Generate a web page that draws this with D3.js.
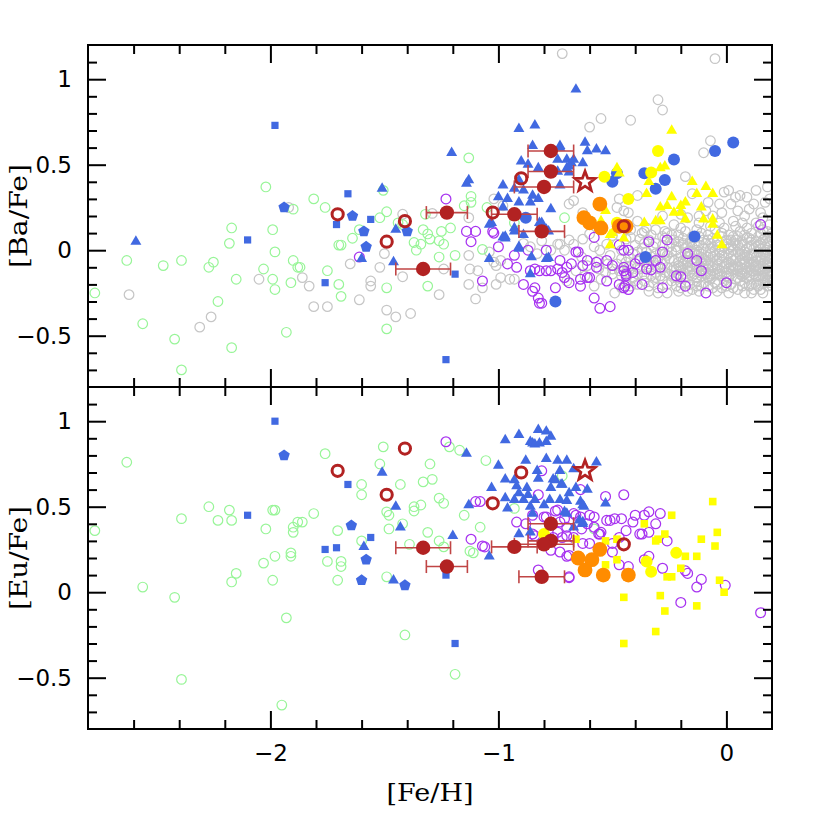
<!DOCTYPE html>
<html>
<head>
<meta charset="utf-8">
<script src="https://cdn.jsdelivr.net/npm/d3@7"></script>
<style>
  body { margin: 0; background: #fff; }
</style>
</head>
<body>
<div id="chart"></div>
<script>
// ---- data: [ [Fe/H], [X/Fe] ] pairs ----
const grayBa = [
  [-2.62,-0.26],[-2.26,-0.39],[-2.31,-0.45],[-2.05,-0.17],[-1.92,0.25],[-1.86,-0.16],[-1.83,-0.21],[-1.81,-0.33],
  [-1.75,-0.33],[-1.65,-0.08],[-1.61,-0.29],[-1.56,-0.18],[-1.56,-0.21],[-1.52,-0.10],[-1.50,-0.02],[-1.49,-0.35],
  [-1.45,-0.39],[-1.42,0.21],[-1.42,-0.155],[-1.385,-0.37],[-1.29,0.215],[-1.26,-0.26],[-1.24,-0.11],[-1.13,0.19],
  [-1.13,-0.03],[-1.125,-0.11],[-1.09,-0.12],[-1.13,-0.20],[-1.07,-0.22],[-1.10,-0.285],[-1.04,-0.01],[-1.01,-0.09],
  [-0.99,-0.06],[-1.02,0.30],[-0.98,0.26],[-0.95,-0.17],[-0.89,0.04],[-0.86,0.02],[-0.83,-0.02],[-1.01,-0.20],
  [-1.02,-0.07],[-0.93,-0.17],[-0.99,-0.16],
  [-0.72,1.15],[-0.05,1.12],[-0.30,0.88],[-0.28,0.82],[-0.55,0.77],[-0.42,0.76],[-0.60,0.72],[-0.07,0.64],[-0.10,0.57],
  [-0.69,0.27],[-0.67,0.29],[-0.63,0.22],[-0.48,0.25],[-0.45,0.23],[-0.43,0.22],[-0.39,0.32],[-0.47,0.30],
  [-0.18,0.43],[-0.15,0.33],[-0.01,0.34],[0.01,0.35],[0.06,0.32],[0.09,0.31],[0.13,0.35],[0.18,0.37],[0.19,0.30],
  [-0.03,0.27],[0.02,0.27],[0.05,0.23],[0.10,0.24],[0.15,0.22],[-0.09,0.23],[-0.06,0.20],[-0.12,0.16],[-0.03,0.16],
  [0.03,0.17],[0.07,0.16],[0.13,0.16],[0.19,0.15],[-0.23,0.15],[-0.17,0.19],[-0.39,0.17],[-0.36,0.11],[-0.42,0.12],
  [-0.63,0.065],[-0.67,0.035],[-0.73,0.035],[-0.77,0.00],[-0.58,0.02],[-0.525,0.035],[-0.50,0.085],[-0.44,0.065],
  [-0.69,0.06],[-0.81,0.055],[-0.74,0.035],[-0.71,0.00],[-0.60,0.095],[-0.635,-0.04],[-0.555,0.00],[-0.48,0.035],
  [-0.42,0.075],[-0.38,0.065],
  [-0.37,0.10],[-0.31,0.12],[-0.24,0.09],[-0.18,0.11],[-0.11,0.10],[-0.05,0.12],[0.01,0.09],[0.06,0.11],[0.11,0.10],
  [0.16,0.12],[0.19,0.08],[-0.34,0.06],[-0.27,0.07],[-0.21,0.05],[-0.14,0.07],[-0.08,0.06],[-0.02,0.08],[0.04,0.06],
  [0.09,0.07],[0.13,0.05],[0.17,0.07],[-0.40,0.03],[-0.31,0.04],[-0.25,0.02],[-0.19,0.04],[-0.12,0.03],[-0.06,0.02],
  [0.00,0.04],[0.05,0.03],[0.10,0.02],[0.15,0.04],[0.19,0.02],[-0.46,0.00],[-0.37,0.01],[-0.29,-0.01],[-0.22,0.00],
  [-0.16,-0.01],[-0.10,0.01],[-0.03,-0.01],[0.03,0.00],[0.08,-0.01],[0.12,0.01],[0.17,-0.01],[-0.51,-0.03],[-0.41,-0.02],
  [-0.33,-0.04],[-0.27,-0.02],[-0.20,-0.04],[-0.13,-0.03],[-0.07,-0.02],[-0.01,-0.04],[0.06,-0.03],[0.11,-0.02],
  [0.15,-0.04],[0.19,-0.03],[-0.56,-0.06],[-0.46,-0.05],[-0.36,-0.07],[-0.30,-0.05],[-0.23,-0.06],[-0.17,-0.07],
  [-0.10,-0.05],[-0.04,-0.06],[0.02,-0.05],[0.08,-0.07],[0.13,-0.06],[0.18,-0.05],[-0.61,-0.09],[-0.52,-0.08],
  [-0.42,-0.09],[-0.34,-0.08],[-0.26,-0.10],[-0.19,-0.08],[-0.12,-0.09],[-0.06,-0.10],[0.00,-0.08],[0.05,-0.09],
  [0.10,-0.10],[0.16,-0.08],[0.19,-0.10],[-0.66,-0.12],[-0.56,-0.11],[-0.47,-0.12],[-0.38,-0.11],[-0.31,-0.13],
  [-0.24,-0.12],[-0.15,-0.11],[-0.09,-0.13],[-0.03,-0.12],[0.03,-0.11],[0.09,-0.13],[0.14,-0.12],[0.18,-0.13],
  [-0.62,-0.15],[-0.50,-0.14],[-0.41,-0.16],[-0.33,-0.15],[-0.25,-0.14],[-0.18,-0.16],[-0.11,-0.15],[-0.05,-0.14],
  [0.01,-0.16],[0.07,-0.15],[0.12,-0.14],[0.17,-0.16],[-0.70,-0.18],[-0.55,-0.17],[-0.44,-0.19],[-0.36,-0.18],
  [-0.28,-0.17],[-0.20,-0.19],[-0.13,-0.18],[-0.07,-0.17],[0.00,-0.19],[0.06,-0.18],[0.11,-0.20],[0.16,-0.19],
  [-0.58,-0.21],[-0.46,-0.22],[-0.39,-0.20],[-0.30,-0.22],[-0.22,-0.21],[-0.15,-0.23],[-0.08,-0.21],[-0.02,-0.22],
  [0.05,-0.23],[0.10,-0.21],[0.15,-0.23],[-0.49,-0.25],[-0.34,-0.24],[-0.26,-0.25],[-0.17,-0.24],[-0.04,-0.24],
  [0.08,-0.25],[-0.28,0.08],[-0.21,0.09],[-0.15,0.08],[-0.08,0.09],[-0.02,0.10],[0.03,0.08],[0.08,0.09],[0.14,0.08],
  [-0.24,0.04],[-0.17,0.02],[-0.09,0.04],[-0.04,0.03],[0.02,0.02],[0.07,0.05],[0.13,0.02],[0.18,0.04],[-0.26,-0.03],
  [-0.18,-0.02],[-0.11,-0.04],[-0.05,-0.03],[0.01,-0.02],[0.04,-0.05],[0.10,-0.05],[0.16,-0.02],[-0.28,-0.08],
  [-0.21,-0.09],[-0.14,-0.07],[-0.08,-0.08],[-0.02,-0.07],[0.03,-0.09],[0.08,-0.08],[0.13,-0.09],[0.18,-0.07],
  [-0.27,-0.13],[-0.20,-0.12],[-0.12,-0.13],[-0.06,-0.12],[0.00,-0.13],[0.05,-0.12],[0.11,-0.12],[0.16,-0.13],
  [-0.22,-0.16],[-0.15,-0.15],[-0.08,-0.16],[-0.02,-0.15],[0.04,-0.17],[0.09,-0.16],[0.14,-0.17],[0.19,-0.15],
  [-0.16,-0.20],[-0.10,-0.19],[-0.04,-0.20],[0.02,-0.20],[0.08,-0.19],[0.13,-0.20],[0.18,-0.18],
  [-0.35,0.13],[-0.27,0.11],[-0.20,0.13],[-0.13,0.12],[-0.07,0.14],[-0.01,0.13],[0.04,0.14],[0.09,0.13],[0.14,0.14],
  [0.18,0.11],[-0.32,0.02],[-0.23,0.06],[-0.16,0.05],[-0.10,0.06],[-0.04,0.05],[0.02,0.06],[0.07,0.03],[0.11,0.06],
  [0.16,0.06],[-0.43,-0.04],[-0.35,-0.01],[-0.25,-0.05],[-0.19,-0.06],[-0.12,-0.01],[-0.08,-0.04],[-0.02,0.00],
  [0.05,-0.01],[0.09,-0.04],[0.14,-0.01],[0.19,-0.06],[-0.48,-0.08],[-0.39,-0.10],[-0.31,-0.09],[-0.23,-0.10],
  [-0.17,-0.10],[-0.10,-0.11],[-0.04,-0.09],[0.02,-0.10],[0.07,-0.11],[0.12,-0.10],[0.17,-0.11],[-0.53,-0.13],
  [-0.44,-0.13],[-0.36,-0.14],[-0.29,-0.15],[-0.21,-0.14],[-0.13,-0.16],[-0.07,-0.14],[-0.01,-0.18],[0.06,-0.14],
  [0.10,-0.17],[0.15,-0.15],[-0.40,-0.18],[-0.32,-0.19],[-0.24,-0.18],[-0.18,-0.19],[-0.11,-0.21],[-0.05,-0.19],
  [0.03,-0.22],[0.12,-0.23],[0.18,-0.21],[-0.12,0.20],[-0.02,0.22],[0.08,0.20],[0.16,0.19],[0.12,0.27],[0.17,0.28],
  [-0.08,0.28],[0.04,0.31],[-0.20,0.21],[-0.28,0.20],
  [-0.33,0.09],[-0.26,0.10],[-0.19,0.07],[-0.12,0.08],[-0.06,0.07],[0.00,0.06],[0.05,0.08],[0.10,0.07],[0.15,0.10],
  [0.20,0.06],[-0.36,0.04],[-0.28,0.03],[-0.22,0.02],[-0.14,0.04],[-0.07,0.04],[-0.01,0.02],[0.04,0.04],[0.09,0.01],
  [0.14,0.03],[0.18,0.00],[-0.39,-0.01],[-0.31,-0.02],[-0.24,-0.01],[-0.18,0.01],[-0.11,-0.02],[-0.05,0.00],
  [0.01,0.01],[0.06,-0.02],[0.12,-0.03],[0.17,0.02],[-0.44,-0.07],[-0.38,-0.06],[-0.32,-0.07],[-0.27,-0.06],
  [-0.21,-0.07],[-0.15,-0.05],[-0.09,-0.06],[-0.03,-0.05],[0.03,-0.06],[0.07,-0.05],[0.12,-0.07],[0.17,-0.05],
  [-0.50,-0.11],[-0.43,-0.10],[-0.35,-0.10],[-0.29,-0.11],[-0.22,-0.11],[-0.16,-0.09],[-0.10,-0.08],[-0.04,-0.11],
  [0.01,-0.11],[0.06,-0.10],[0.11,-0.08],[0.15,-0.11],[0.19,-0.12],[-0.46,-0.15],[-0.39,-0.14],[-0.31,-0.16],
  [-0.23,-0.15],[-0.16,-0.13],[-0.09,-0.14],[-0.03,-0.14],[0.02,-0.14],[0.08,-0.14],[0.13,-0.15],[0.18,-0.14],
  [-0.42,-0.21],[-0.34,-0.21],[-0.26,-0.20],[-0.20,-0.22],[-0.13,-0.21],[-0.06,-0.22],[0.00,-0.21],[0.07,-0.21],
  [0.14,-0.21],[0.19,-0.19],[-0.30,-0.25],[-0.21,-0.24],[-0.12,-0.24],[0.01,-0.25],[0.11,-0.25],[0.16,-0.25],
  [-0.19,0.03],[-0.15,0.02],[-0.13,0.00],[-0.07,0.01],[-0.03,0.02],[0.02,0.03],[0.06,0.01],[0.11,0.03],[0.15,0.01],
  [0.20,0.00],[-0.17,-0.04],[-0.14,-0.02],[-0.06,-0.04],[-0.02,-0.03],[0.03,-0.03],[0.08,-0.03],[0.13,-0.04],
  [0.17,-0.03],[0.20,-0.05],[-0.18,-0.06],[-0.11,-0.07],[-0.07,-0.06],[0.01,-0.07],[0.06,-0.06],[0.10,-0.07],
  [0.15,-0.06],[0.20,-0.08],[-0.20,-0.10],[-0.13,-0.10],[-0.08,-0.11],[-0.01,-0.10],[0.04,-0.11],[0.09,-0.10],
  [0.14,-0.10],[0.18,-0.09],[-0.17,-0.12],[-0.11,-0.12],[-0.04,-0.13],[0.02,-0.12],[0.07,-0.13],[0.12,-0.12],
  [0.17,-0.12],[0.20,-0.13],[-0.14,-0.14],[-0.07,-0.15],[0.00,-0.15],[0.05,-0.16],[0.10,-0.15],[0.16,-0.15],
  [0.20,-0.17],[0.20,0.10],[0.20,-0.21],[0.19,0.05],[0.17,-0.19]
];

const greenBa = [
  [-2.02,0.37],[-2.17,0.13],[-1.99,0.12],[-2.18,0.04],[-1.98,-0.01],[-2.63,-0.06],[-2.39,-0.06],[-2.47,-0.09],
  [-2.25,-0.07],[-2.27,-0.10],[-1.90,-0.06],[-1.88,-0.10],[-2.03,-0.11],[-2.15,-0.17],[-1.99,-0.17],[-1.98,-0.23],
  [-1.91,-0.19],[-2.77,-0.25],[-2.23,-0.30],[-2.56,-0.43],[-2.42,-0.52],[-2.17,-0.57],[-1.93,-0.48],[-2.39,-0.70],
  [-1.90,0.24],[-1.81,0.30],[-1.76,0.25],[-1.87,-0.10],[-1.75,-0.12],[-1.70,0.03],[-1.69,0.03],[-1.70,-0.20],
  [-1.69,-0.27],[-1.64,0.07],[-1.61,0.12],[-1.52,0.19],[-1.49,0.225],[-1.505,0.35],[-1.49,-0.22],[-1.49,-0.46],
  [-1.44,0.16],[-1.42,0.15],[-1.37,0.045],[-1.36,0.00],[-1.34,0.035],[-1.33,0.12],[-1.32,0.21],[-1.31,0.095],
  [-1.30,0.065],[-1.26,-0.04],[-1.26,0.055],[-1.25,0.11],[-1.24,0.035],[-1.21,0.13],[-1.19,-0.03],[-1.31,-0.21],
  [-1.15,0.26],[-1.12,0.28],[-1.12,0.315],[-1.13,0.54],[-1.05,0.25],[-0.93,0.16],[-1.07,0.005],[-0.71,0.19]
];
const greenEu = [
  [-2.63,0.76],[-2.77,0.36],[-2.39,0.43],[-2.27,0.50],[-2.18,0.48],[-2.23,0.42],[-2.17,0.42],[-1.99,0.48],
  [-1.98,0.48],[-2.02,0.37],[-1.90,0.38],[-1.90,0.35],[-1.88,0.41],[-1.91,0.23],[-1.91,0.21],[-1.98,0.21],
  [-2.03,0.17],[-2.15,0.11],[-2.17,0.06],[-1.99,0.07],[-2.56,0.03],[-2.42,-0.03],[-1.93,-0.15],[-2.39,-0.51],
  [-1.95,-0.66],[-1.76,0.81],[-1.505,0.85],[-1.52,0.75],[-1.30,0.75],[-1.60,0.63],[-1.60,0.57],[-1.43,0.63],
  [-1.33,0.645],[-1.29,0.66],[-1.81,0.46],[-1.86,0.41],[-1.705,0.36],[-1.49,0.47],[-1.48,0.45],[-1.48,0.37],
  [-1.42,0.40],[-1.37,0.50],[-1.37,0.475],[-1.34,0.51],[-1.26,0.55],[-1.24,0.52],[-1.15,0.45],[-1.08,0.38],
  [-1.055,0.77],[-1.17,0.83],[-1.215,0.85],[-1.31,0.35],[-1.26,0.30],[-1.24,0.265],[-1.39,0.28],[-1.60,0.30],
  [-1.75,0.18],[-1.69,0.18],[-1.69,0.15],[-1.705,0.07],[-1.49,0.09],[-1.125,0.24],[-1.11,0.23],[-1.41,-0.25],
  [-1.19,-0.48],[-0.72,0.68],[-0.58,0.37],[-0.93,0.49]
];

const purpleBa = [
  [-1.23,0.30],[-1.61,-0.04],[-1.14,0.11],[-1.10,0.11],[-1.025,0.11],[-1.12,0.05],[-1.00,0.02],[-0.93,-0.03],
  [-0.87,0.00],[-1.07,-0.18],[-0.89,-0.20],[-0.85,-0.24],[-0.825,-0.28],[-0.82,-0.31],[-0.86,-0.12],[-0.82,-0.12],
  [-1.02,0.10],[-0.84,-0.11],[-0.77,-0.12],[-0.74,-0.11],[-0.70,-0.10],[-0.66,-0.01],[-0.61,-0.06],[-0.57,-0.07],
  [-0.50,-0.09],[-0.45,-0.12],[-0.43,0.00],[-0.40,-0.08],[-0.84,-0.22],[-0.75,-0.22],[-0.69,-0.19],[-0.64,-0.17],
  [-0.58,-0.28],[-0.555,-0.34],[-0.51,-0.33],[-0.71,-0.16],[-0.61,-0.16],[-0.525,-0.18],[-0.445,-0.21],[-0.96,-0.08],
  [-0.92,-0.10],[0.15,0.15],[-0.58,0.075],[-0.34,0.05],[-0.26,0.06],[-0.47,0.03],[-0.79,0.00],[-0.65,-0.01],
  [-0.28,-0.01],[-0.17,-0.02],[-0.13,-0.06],[-0.38,-0.05],[-0.31,-0.06],[-0.73,-0.06],[-0.525,-0.06],[-0.68,-0.08],
  [-0.63,-0.09],[-0.57,-0.10],[-0.35,-0.11],[-0.79,-0.12],[-0.72,-0.13],[-0.44,-0.14],[-0.11,-0.12],[-0.22,-0.15],
  [-0.60,-0.16],[-0.47,-0.20],[-0.37,-0.20],[-0.28,-0.22],[-0.18,-0.21],[0.00,-0.19],[-0.64,-0.21],[-0.43,-0.23],
  [-0.09,-0.25],[-0.45,0.00],[-0.33,-0.115],[-0.29,-0.10],[-0.45,-0.10],[-0.44,-0.15],[-0.41,-0.13],[-0.20,-0.155],
  [-0.45,-0.22],[-0.81,-0.31]
];
const purpleEu = [
  [-1.23,0.88],[-1.12,0.31],[-1.07,0.27],[-1.10,0.53],[-0.45,0.57],[-0.53,0.56],[-0.34,0.47],[-0.29,0.46],
  [-0.40,0.45],[-0.41,0.41],[-0.31,0.40],[-0.46,0.43],[-0.51,0.42],[-0.44,0.36],[-0.37,0.34],[-0.34,0.35],
  [-0.26,0.30],[-0.56,0.34],[-0.50,0.235],[-0.36,0.19],[-0.34,0.21],[-0.43,0.15],[-0.28,0.14],[-0.18,0.125],
  [-0.17,0.11],[-0.11,0.075],[-0.13,0.03],[-0.005,0.04],[-0.20,-0.06],[0.15,-0.12],[-0.47,0.16],[-0.64,0.60],
  [-0.81,0.71],[-0.74,0.48],[-0.67,0.46],[-0.64,0.44],[-0.60,0.45],[-0.58,0.44],[-0.61,0.40],[-0.58,0.38],
  [-0.555,0.34],[-0.80,0.44],[-0.73,0.41],[-0.70,0.38],[-0.76,0.32],[-0.72,0.32],[-0.67,0.32],[-0.63,0.285],
  [-0.60,0.285],[-0.77,0.245],[-0.73,0.235],[-0.70,0.21],[-0.69,0.09],[-0.47,0.32],[-0.50,0.285],[-0.825,0.57],
  [-0.75,0.475],[-1.08,0.53],[-1.06,0.265],[-0.92,0.41],[-0.88,0.40],[-0.85,0.45],[-0.79,0.44],[-0.71,0.43],
  [-0.66,0.45],[-0.525,0.42],[-0.49,0.43],[-0.36,0.45],[-0.85,0.34],[-0.84,0.33],[-0.74,0.35],[-0.70,0.33],
  [-0.635,0.37],[-0.55,0.35],[-0.38,0.34],[-0.69,0.215],[-0.825,0.13],[-0.69,0.085]
];

const blueTriBa = [
  [-2.59,0.05],[-1.51,0.36],[-1.45,0.12],[-1.60,-0.05],[-1.46,-0.07],[-1.205,0.57],[-1.14,0.39],[-1.13,0.41],
  [-1.04,-0.05],[-1.03,0.16],[-0.66,0.94],[-0.91,0.71],[-0.84,0.73],[-0.62,0.63],[-0.57,0.59],[-0.53,0.58],
  [-0.61,0.58],[-0.85,0.61],[-0.73,0.61],[-0.90,0.52],[-0.87,0.50],[-0.74,0.53],[-0.70,0.53],[-0.68,0.51],
  [-0.70,0.48],[-0.74,0.46],[-0.825,0.48],[-0.91,0.41],[-0.98,0.38],[-0.93,0.36],[-0.89,0.35],[-0.73,0.38],
  [-0.85,0.32],[-1.00,0.31],[-0.86,0.28],[-0.96,0.30],[-0.825,0.30],[-0.91,0.28],[-0.98,0.25],[-0.77,0.24],
  [-1.04,0.15],[-0.93,0.13],[-0.81,0.16],[-0.78,0.11],[-0.97,0.08],[-0.89,0.09],[-0.93,0.11],[-0.79,0.12],
  [-0.79,-0.05],[-0.98,0.075],[-0.91,0.02],[-0.855,-0.04],[-0.78,-0.045],[-0.86,-0.14],[-0.82,0.16],[-0.73,0.60],
  [-0.67,0.53],[-0.69,0.49],[-0.63,0.51],[-0.69,0.455],[-0.97,0.07],[-0.91,0.01]
];
const blueTriEu = [
  [-1.51,0.70],[-1.45,0.50],[-1.43,0.38],[-1.59,0.265],[-1.46,0.07],[-1.20,0.33],[-1.14,0.81],[-1.13,0.51],
  [-1.04,0.21],[-1.03,0.61],[-1.00,0.74],[-0.97,0.89],[-0.91,0.92],[-0.825,0.95],[-0.97,0.66],[-0.96,0.49],
  [-0.91,0.34],[-0.88,0.77],[-0.79,0.78],[-0.85,0.87],[-0.77,0.91],[-0.86,0.88],[-0.84,0.865],[-0.82,0.87],
  [-0.79,0.88],[-0.74,0.77],[-0.70,0.77],[-0.57,0.76],[-0.83,0.71],[-0.73,0.71],[-0.93,0.655],[-0.825,0.665],
  [-0.76,0.66],[-0.725,0.63],[-0.92,0.62],[-0.875,0.61],[-0.77,0.61],[-0.66,0.61],[-0.61,0.60],[-0.69,0.58],
  [-0.91,0.58],[-0.87,0.57],[-0.97,0.55],[-0.93,0.54],[-0.89,0.54],[-0.84,0.54],[-0.775,0.54],[-0.73,0.54],
  [-0.70,0.535],[-0.64,0.53],[-0.53,0.52],[-0.86,0.50],[-0.80,0.51],[-0.625,0.50],[-0.70,0.46],[-0.85,0.46],
  [-0.645,0.42],[-0.63,0.40],[-0.86,0.35],[-0.79,0.94],[-0.67,0.72],[-0.75,0.655],[-0.72,0.63],[-0.71,0.47],
  [-0.63,0.51],[-0.63,0.41],[-0.67,0.38]
];
const blueSqBa = [[-1.98,0.73],[-2.10,0.06],[-1.66,0.33],[-1.56,0.18],[-1.71,0.15],[-1.76,-0.19],[-1.19,-0.14],[-1.23,-0.64]];
const blueSqEu = [[-1.98,1.00],[-2.10,0.45],[-1.66,0.63],[-1.56,0.32],[-1.71,0.26],[-1.76,0.25],[-1.23,0.10],[-1.19,-0.30]];
const bluePentBa = [[-1.94,0.25],[-1.64,0.20],[-1.59,0.11],[-1.58,0.02],[-1.40,0.11]];
const bluePentEu = [[-1.94,0.80],[-1.645,0.39],[-1.58,0.19],[-1.60,0.07],[-1.41,0.04]];
const blueCircBa = [
  [0.03,0.63],[-0.05,0.58],[-0.23,0.53],[-0.48,0.45],[-0.50,0.40],[-0.36,0.45],[-0.27,0.41],[-0.31,0.36],
  [-0.14,0.08],[-0.355,-0.04],[-0.75,-0.30],[-0.88,0.19]
];

const yellowCircBa = [[-0.30,0.58],[-0.535,0.43],[-0.33,0.455],[-0.43,0.30],[-0.48,0.16]];
const yellowTriBa = [
  [-0.24,0.70],[-0.48,0.48],[-0.47,0.45],[-0.29,0.48],[-0.27,0.49],[-0.34,0.40],[-0.15,0.40],[-0.09,0.37],
  [-0.13,0.33],[-0.06,0.33],[-0.35,0.33],[-0.24,0.31],[-0.29,0.25],[-0.26,0.26],[-0.20,0.26],[-0.18,0.28],
  [-0.11,0.25],[-0.23,0.22],[-0.20,0.22],[-0.53,0.23],[-0.18,0.18],[-0.10,0.18],[-0.06,0.18],[-0.36,0.16],
  [-0.31,0.17],[-0.29,0.17],[-0.06,0.15],[-0.04,0.085],[-0.02,0.03],[-0.50,0.10],[-0.45,0.07],[-0.51,0.03],
  [-0.55,0.17],[-0.51,0.09]
];
const yellowSqEu = [
  [-0.06,0.53],[-0.24,0.45],[-0.36,0.40],[-0.04,0.35],[-0.27,0.34],[-0.31,0.30],[-0.30,0.31],[-0.11,0.31],
  [-0.05,0.27],[-0.53,0.30],[-0.48,0.31],[-0.18,0.21],[-0.13,0.21],[-0.48,0.19],[-0.53,0.16],[-0.20,0.14],
  [-0.26,0.09],[-0.24,0.09],[-0.03,0.07],[-0.01,0.00],[-0.45,-0.03],[-0.29,-0.02],[-0.13,-0.08],[-0.27,-0.11],
  [-0.31,-0.23],[-0.45,-0.30],[-0.66,0.31]
];
const yellowCircEu = [[-0.35,0.18],[-0.33,0.12],[-0.22,0.23],[-0.80,0.34]];

const orangeBa = [[-0.555,0.27],[-0.625,0.19],[-0.60,0.16],[-0.55,0.13],[-0.47,0.14],[-0.44,0.14]];
const orangeEu = [[-0.555,0.25],[-0.65,0.20],[-0.59,0.19],[-0.62,0.13],[-0.54,0.10],[-0.43,0.10]];

// programme stars with error bars in [Fe/H]
const redFe  = [-1.226, -1.33, -0.93, -0.81, -0.77, -0.77, -0.80];
const redBa  = [0.22, -0.11, 0.21, 0.11, 0.58, 0.46, 0.37];
const redEu  = [0.15, 0.26, 0.265, 0.09, 0.40, 0.30, 0.28];
const redErr = [0.09, 0.12, 0.10, 0.10, 0.10, 0.10, 0.13];

const openFe = [-1.705, -1.41, -1.49, -1.025, -0.90, -0.45];
const openBa = [0.21, 0.17, 0.05, 0.22, 0.42, 0.14];
const openEu = [0.71, 0.84, 0.57, 0.52, 0.70, 0.28];

const starFe = [-0.62];
const starBa = [0.40];
const starEu = [0.71];

const xMajor = [-2, -1, 0];
const yMajor = [-0.5, 0, 0.5, 1];

// ---- layout ----
const W = 817, H = 817;
const x = d3.scaleLinear().domain([-2.8, 0.2]).range([88, 772]);
const yBa = d3.scaleLinear().domain([-0.8, 1.2]).range([387, 45]);
const yEu = d3.scaleLinear().domain([-0.8, 1.2]).range([729, 387]);

const xMinor = d3.range(-2.6, 0.2, 0.2).filter(v => Math.abs(v - Math.round(v)) > 1e-6);
const yMinor = d3.range(-0.7, 1.15, 0.1).filter(v => Math.abs(v * 2 - Math.round(v * 2)) > 1e-6);

const fmt = d => (d < 0 ? "\u2212" : "") + Math.abs(d);

const svg = d3.select("#chart").append("svg")
  .attr("width", W).attr("height", H)
  .style("font-family", "'DejaVu Sans', sans-serif");

const RED = "#b22222";
const tri = d3.symbol(d3.symbolTriangle, 52)();
const sq = d3.symbol(d3.symbolSquare, 52)();
const ysq = d3.symbol(d3.symbolSquare, 58)();
const pent = (() => {
  const p = d3.path();
  for (let k = 0; k < 5; k++) {
    const a = -Math.PI / 2 + k * 2 * Math.PI / 5;
    k ? p.lineTo(6 * Math.cos(a), 6 * Math.sin(a)) : p.moveTo(6 * Math.cos(a), 6 * Math.sin(a));
  }
  p.closePath();
  return p.toString();
})();
const star = (() => {
  const p = d3.path();
  for (let k = 0; k < 10; k++) {
    const r = k % 2 ? 4.4 : 10.5;
    const a = -Math.PI / 2 + k * Math.PI / 5;
    k ? p.lineTo(r * Math.cos(a), r * Math.sin(a)) : p.moveTo(r * Math.cos(a), r * Math.sin(a));
  }
  p.closePath();
  return p.toString();
})();

const plot = (g, y, data, shape, st) => {
  const sel = g.append("g").selectAll(null).data(data)
    .join(shape === "circle" ? "circle" : "path");
  if (shape === "circle") {
    sel.attr("cx", d => x(d[0])).attr("cy", d => y(d[1])).attr("r", st.r);
  } else {
    sel.attr("d", shape).attr("transform", d => `translate(${x(d[0])},${y(d[1])})`);
  }
  sel.attr("fill", st.fill || "none")
    .attr("stroke", st.stroke || "none")
    .attr("stroke-width", st.sw || 0);
};

const zip = (a, b) => a.map((v, i) => [v, b[i]]);

const panel = (id, y, s) => {
  const [y0, y1] = y.range();
  svg.append("clipPath").attr("id", "clip-" + id)
    .append("rect").attr("x", 88).attr("y", y1).attr("width", 684).attr("height", y0 - y1);
  const g = svg.append("g").attr("clip-path", `url(#clip-${id})`);

  if (s.gray) plot(g, y, s.gray, "circle", { r: 4.8, stroke: "#c6c6c6", sw: 1.25 });
  plot(g, y, s.green, "circle", { r: 4.8, stroke: "#98f598", sw: 1.2 });
  plot(g, y, s.purple, "circle", { r: 4.9, stroke: "#a733f0", sw: 1.25 });
  plot(g, y, s.tri, tri, { fill: "#4169e1" });
  plot(g, y, s.sq, sq, { fill: "#4169e1" });
  plot(g, y, s.pent, pent, { fill: "#4169e1" });
  if (s.circ) plot(g, y, s.circ, "circle", { r: 6, fill: "#4169e1" });
  if (s.ytri) plot(g, y, s.ytri, tri, { fill: "#ffff00" });
  if (s.ysq) plot(g, y, s.ysq, ysq, { fill: "#ffff00" });
  plot(g, y, s.ycirc, "circle", { r: 6, fill: "#ffff00" });
  plot(g, y, s.orange, "circle", { r: 7.4, fill: "#ff8c00" });

  // error bars
  const eb = g.append("g").attr("stroke", "#c04545").attr("stroke-width", 1.6).attr("fill", "none");
  s.red.forEach((d, i) => {
    const cy = y(d[1]), xl = x(d[0] - redErr[i]), xr = x(d[0] + redErr[i]);
    eb.append("line").attr("x1", xl).attr("x2", xr).attr("y1", cy).attr("y2", cy);
    eb.append("line").attr("x1", xl).attr("x2", xl).attr("y1", cy - 6.5).attr("y2", cy + 6.5);
    eb.append("line").attr("x1", xr).attr("x2", xr).attr("y1", cy - 6.5).attr("y2", cy + 6.5);
  });
  plot(g, y, s.red, "circle", { r: 7.2, fill: RED });
  plot(g, y, s.open, "circle", { r: 5.6, stroke: RED, sw: 3 });
  plot(g, y, s.star, star, { stroke: RED, sw: 2.8 });

  // axes: inward ticks on all four sides
  const ax = svg.append("g").attr("stroke-width", 2);
  const tick = (axis, tr, vals, len, labels) => {
    const a = ax.append("g").attr("transform", tr)
      .call(axis.tickValues(vals).tickSize(-len).tickPadding(labels ? 16 : 0)
        .tickFormat(labels ? fmt : () => ""));
    a.select(".domain").remove();
    a.selectAll("line").attr("stroke", "#000").attr("stroke-width", 2);
    a.selectAll("text").attr("font-size", 23).attr("fill", "#000")
      .attr("font-family", "'DejaVu Sans', sans-serif");
    return a;
  };
  tick(d3.axisLeft(y), "translate(88,0)", yMajor, 18, true);
  tick(d3.axisLeft(y), "translate(88,0)", yMinor, 9, false);
  tick(d3.axisRight(y), "translate(772,0)", yMajor, 18, false);
  tick(d3.axisRight(y), "translate(772,0)", yMinor, 9, false);
  tick(d3.axisTop(x), `translate(0,${y1})`, xMajor, 18, false);
  tick(d3.axisTop(x), `translate(0,${y1})`, xMinor, 9, false);
  tick(d3.axisBottom(x), `translate(0,${y0})`, xMajor, 18, s.xLabels);
  tick(d3.axisBottom(x), `translate(0,${y0})`, xMinor, 9, false);

  svg.append("rect").attr("x", 88).attr("y", y1).attr("width", 684).attr("height", y0 - y1)
    .attr("fill", "none").attr("stroke", "#000").attr("stroke-width", 2);

  svg.append("text")
    .attr("transform", `translate(27,${(y0 + y1) / 2}) rotate(-90)`)
    .attr("text-anchor", "middle")
    .attr("font-family", "'DejaVu Serif', serif").attr("font-size", 25)
    .attr("textLength", 104).attr("lengthAdjust", "spacingAndGlyphs")
    .text(s.title);
};

panel("ba", yBa, {
  gray: grayBa, green: greenBa, purple: purpleBa,
  tri: blueTriBa, sq: blueSqBa, pent: bluePentBa, circ: blueCircBa,
  ytri: yellowTriBa, ycirc: yellowCircBa, orange: orangeBa,
  red: zip(redFe, redBa), open: zip(openFe, openBa), star: zip(starFe, starBa),
  title: "[Ba/Fe]", xLabels: false
});
panel("eu", yEu, {
  green: greenEu, purple: purpleEu,
  tri: blueTriEu, sq: blueSqEu, pent: bluePentEu,
  ysq: yellowSqEu, ycirc: yellowCircEu, orange: orangeEu,
  red: zip(redFe, redEu), open: zip(openFe, openEu), star: zip(starFe, starEu),
  title: "[Eu/Fe]", xLabels: true
});

svg.append("text")
  .attr("x", 430).attr("y", 801)
  .attr("text-anchor", "middle")
  .attr("font-family", "'DejaVu Serif', serif").attr("font-size", 24)
  .attr("textLength", 87).attr("lengthAdjust", "spacingAndGlyphs")
  .text("[Fe/H]");
</script>
</body>
</html>
